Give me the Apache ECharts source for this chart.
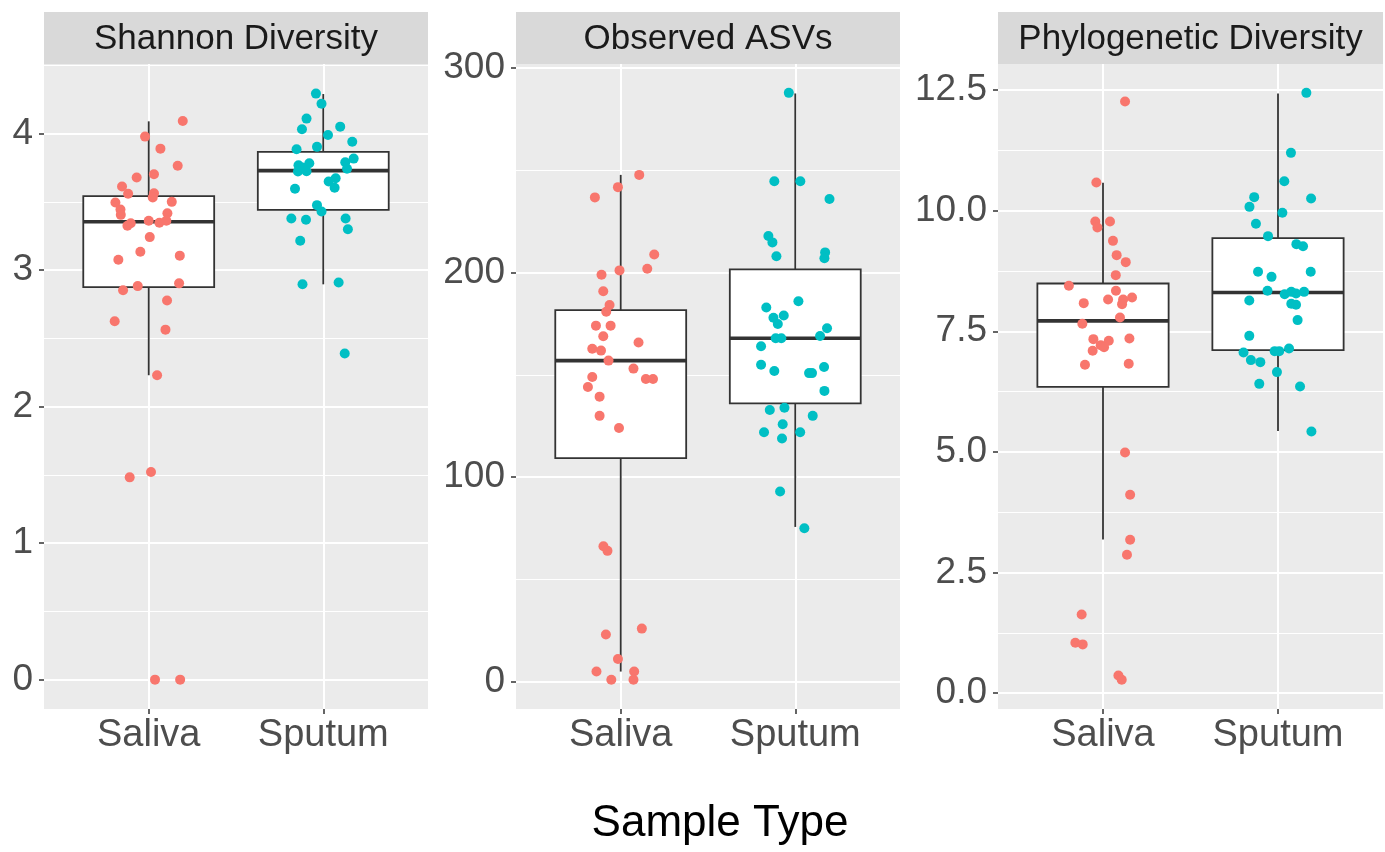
<!DOCTYPE html>
<html><head><meta charset="utf-8">
<script src="https://cdn.jsdelivr.net/npm/echarts@6/dist/echarts.min.js"></script>
<style>html,body{margin:0;padding:0;background:#fff}#c{width:1385px;height:852px}</style>
</head><body><div id="c"></div>
<script>
const categories = ['Saliva', 'Sputum'];
const panelTitles = ['Shannon Diversity', 'Observed ASVs', 'Phylogenetic Diversity'];
const xAxisTitle = 'Sample Type';
const yTicksShannon = [0, 1, 2, 3, 4];
const yTicksAsv = [0, 100, 200, 300];
const yTicksPd = [0, 2.5, 5, 7.5, 10, 12.5];

// Box statistics: [lower whisker, Q1, median, Q3, upper whisker]
const shannonSalivaBox = [2.23, 2.876, 3.354, 3.542, 4.09];
const shannonSputumBox = [2.896, 3.442, 3.729, 3.866, 4.29];
const asvSalivaBox = [5.0, 109.3, 157.0, 181.7, 247.8];
const asvSputumBox = [75.7, 136.1, 167.9, 201.6, 287.6];
const pdSalivaBox = [3.185, 6.349, 7.716, 8.49, 10.576];
const pdSputumBox = [5.43, 7.109, 8.304, 9.43, 12.43];

// Points and their horizontal jitter (category units)
const shannonSaliva = [4.093,3.978,3.890,3.764,3.703,3.678,3.612,3.559,3.563,3.532,3.495,3.50,3.444,3.405,3.417,3.344,3.325,3.362,3.347,3.362,3.242,3.135,3.076,3.106,2.852,2.883,2.903,2.777,2.625,2.564,2.230,1.482,1.521,0,0];
const shannonSalivaJitter = [0.195,-0.021,0.067,0.166,0.03,-0.069,-0.153,-0.118,0.03,0.023,-0.191,0.132,-0.162,-0.16,0.107,-0.103,-0.122,0,0.061,0.101,0.006,-0.048,-0.174,0.178,-0.147,-0.063,0.174,0.105,-0.195,0.096,0.048,-0.109,0.013,0.036,0.18];
const shannonSputum = [4.293,4.219,4.110,4.032,4.051,3.990,3.941,3.885,3.903,3.768,3.783,3.751,3.722,3.724,3.790,3.817,3.742,3.673,3.649,3.603,3.596,3.476,3.430,3.378,3.369,3.378,3.300,3.215,2.896,2.910,2.389];
const shannonSputumJitter = [-0.042,-0.01,-0.096,-0.122,0.097,0.027,0.166,-0.153,-0.036,-0.142,-0.08,-0.119,-0.145,-0.096,0.126,0.174,0.136,0.071,0.031,0.065,-0.162,-0.036,-0.01,-0.183,-0.099,0.128,0.141,-0.132,-0.119,0.088,0.123];

const asvSaliva = [247.8,241.8,236.8,208.9,201.1,201.9,199.0,190.9,184.2,180.9,174.1,174.1,168.9,165.9,162.8,161.9,157.0,153.1,149.0,148.0,148.0,144.1,139.4,130.0,124.1,66.3,64.0,26.0,23.1,11.1,5.0,5.0,1.0,1.0];
const asvSalivaJitter = [0.106,-0.016,-0.148,0.192,-0.007,0.152,-0.11,-0.1,-0.064,-0.083,-0.142,-0.058,-0.1,0.102,-0.163,-0.113,-0.07,0.073,-0.163,0.144,0.185,-0.188,-0.121,-0.121,-0.01,-0.099,-0.076,0.121,-0.085,-0.016,-0.139,0.077,-0.054,0.073];
const asvSputum = [287.9,244.7,244.7,236.0,217.9,214.8,209.9,208.0,207.0,186.0,183.0,178.0,179.1,174.9,172.8,167.9,167.9,169.0,164.0,155.0,151.9,150.9,150.9,153.9,142.2,132.9,134.0,130.0,125.9,122.0,122.0,118.9,93.0,75.1];
const asvSputumJitter = [-0.037,-0.12,0.029,0.196,-0.154,-0.131,0.171,-0.108,0.167,0.018,-0.166,-0.125,-0.066,-0.1,0.182,-0.112,-0.08,0.142,-0.196,-0.196,-0.12,0.079,0.096,0.165,0.167,-0.146,-0.062,0.1,-0.072,-0.179,0.028,-0.076,-0.087,0.052];

const pdSaliva = [12.263,10.584,9.776,9.776,9.652,9.374,9.078,8.933,8.663,8.442,8.338,8.083,8.159,8.159,8.2,8.062,7.786,7.654,7.337,7.351,7.302,7.212,7.171,7.095,6.805,6.825,4.988,4.111,3.178,2.866,1.630,1.043,1.009,0.366,0.276];
const pdSalivaJitter = [0.126,-0.038,-0.044,0.04,-0.032,0.057,0.078,0.13,0.073,-0.195,0.074,-0.11,0.029,0.115,0.166,0.109,0.097,-0.118,-0.055,0.151,0.033,-0.013,0.006,-0.059,-0.103,0.147,0.126,0.155,0.155,0.137,-0.122,-0.158,-0.116,0.088,0.107];
const pdSputum = [12.442,11.198,10.611,10.252,10.28,10.079,9.955,9.727,9.472,9.306,9.264,8.732,8.732,8.628,8.338,8.269,8.317,8.284,8.317,8.139,8.069,8.048,7.731,7.405,7.061,7.088,7.088,7.144,6.902,6.86,6.653,6.41,6.356,5.423];
const pdSputumJitter = [0.162,0.074,0.036,0.189,-0.136,-0.163,0.025,-0.126,-0.057,0.105,0.143,-0.114,0.187,-0.037,-0.06,0.038,0.076,0.103,0.149,-0.164,0.076,0.103,0.112,-0.164,-0.197,-0.019,0.007,0.063,-0.155,-0.101,-0.006,-0.107,0.126,0.191];

const FONT = "'Liberation Sans', Arial, sans-serif";
const BOX_HALF = 0.375;
const colors = ['#F8766D', '#00BFC4'];

const panels = [
  { title: panelTitles[0], ticks: yTicksShannon, step: 1, min: -0.215, max: 4.51, fmt: v => String(v),
    boxes: [shannonSalivaBox, shannonSputumBox],
    pts: [[shannonSaliva, shannonSalivaJitter], [shannonSputum, shannonSputumJitter]],
    left: 44, width: 384 },
  { title: panelTitles[1], ticks: yTicksAsv, step: 100, min: -13.3, max: 302.0, fmt: v => String(v),
    boxes: [asvSalivaBox, asvSputumBox],
    pts: [[asvSaliva, asvSalivaJitter], [asvSputum, asvSputumJitter]],
    left: 516, width: 384 },
  { title: panelTitles[2], ticks: yTicksPd, step: 2.5, min: -0.33, max: 13.04, fmt: v => v.toFixed(1),
    boxes: [pdSalivaBox, pdSputumBox],
    pts: [[pdSaliva, pdSalivaJitter], [pdSputum, pdSputumJitter]],
    left: 998, width: 385 }
];
const TOP = 64, HEIGHT = 645;

function renderBox(params, api) {
  const x = api.value(0);
  const lo = api.coord([x, api.value(1)]);
  const q1 = api.coord([x, api.value(2)]);
  const md = api.coord([x, api.value(3)]);
  const q3 = api.coord([x, api.value(4)]);
  const hi = api.coord([x, api.value(5)]);
  const l = api.coord([x - BOX_HALF, api.value(3)])[0];
  const r = api.coord([x + BOX_HALF, api.value(3)])[0];
  const st = { stroke: '#333333', lineWidth: 1.8 };
  return { type: 'group', children: [
    { type: 'line', shape: { x1: lo[0], y1: lo[1], x2: q1[0], y2: q1[1] }, style: st },
    { type: 'line', shape: { x1: q3[0], y1: q3[1], x2: hi[0], y2: hi[1] }, style: st },
    { type: 'rect', shape: { x: l, y: q3[1], width: r - l, height: q1[1] - q3[1] }, style: { fill: '#ffffff', stroke: '#333333', lineWidth: 1.8 } },
    { type: 'line', shape: { x1: l, y1: md[1], x2: r, y2: md[1] }, style: { stroke: '#333333', lineWidth: 3.6 } }
  ]};
}

const grid = [], xAxis = [], yAxis = [], series = [], graphic = [];
panels.forEach((p, i) => {
  grid.push({ left: p.left, top: TOP, width: p.width, height: HEIGHT, show: true, backgroundColor: '#EBEBEB', borderWidth: 0 });
  xAxis.push({
    type: 'value', gridIndex: i, min: 0.4, max: 2.6, minInterval: 1, maxInterval: 1, position: 'bottom',
    axisLine: { show: false, onZero: false },
    axisTick: { show: true, length: 5, customValues: [1, 2], lineStyle: { color: '#333333', width: 1.5 } },
    axisLabel: { customValues: [1, 2], formatter: v => categories[Math.round(v) - 1] || '', color: '#4D4D4D', fontSize: 38, fontFamily: FONT, margin: 8 },
    splitLine: { show: true, lineStyle: { color: '#ffffff', width: 2 } }
  });
  yAxis.push({
    type: 'value', gridIndex: i, min: p.min, max: p.max, minInterval: p.step, maxInterval: p.step,
    axisLine: { show: false, onZero: false },
    axisTick: { show: true, length: 5, customValues: p.ticks, lineStyle: { color: '#333333', width: 1.5 } },
    axisLabel: { customValues: p.ticks, formatter: p.fmt, color: '#4D4D4D', fontSize: 37, fontFamily: FONT, margin: 11 },
    splitLine: { show: true, lineStyle: { color: '#ffffff', width: 2 } },
    minorTick: { show: false, splitNumber: 2 },
    minorSplitLine: { show: true, lineStyle: { color: '#ffffff', width: 1 } }
  });
  series.push({
    type: 'custom', xAxisIndex: i, yAxisIndex: i, renderItem: renderBox, silent: true, z: 2,
    encode: { x: 0, y: [1, 2, 3, 4, 5] },
    data: p.boxes.map((b, k) => [k + 1].concat(b))
  });
  p.pts.forEach((pair, k) => {
    const vals = pair[0], jit = pair[1];
    series.push({
      type: 'scatter', xAxisIndex: i, yAxisIndex: i, symbol: 'circle', symbolSize: 10, z: 3, silent: true,
      itemStyle: { color: colors[k], opacity: 1 },
      data: vals.map((v, j) => [k + 1 + jit[j], v])
    });
  });
  graphic.push({ type: 'rect', left: p.left, top: 12, shape: { width: p.width, height: 52 }, style: { fill: '#D9D9D9' }, z: 0 });
  graphic.push({ type: 'text', x: p.left + p.width / 2, y: 39, style: { text: p.title, fill: '#1A1A1A', font: '35px ' + FONT, align: 'center', verticalAlign: 'middle' }, z: 1 });
});
graphic.push({ type: 'text', x: 720, y: 824, style: { text: xAxisTitle, fill: '#000000', font: '44px ' + FONT, align: 'center', verticalAlign: 'middle' } });

const chart = echarts.init(document.getElementById('c'), null, { renderer: 'canvas' });
chart.setOption({ backgroundColor: '#ffffff', animation: false, grid, xAxis, yAxis, series, graphic });
</script></body></html>
